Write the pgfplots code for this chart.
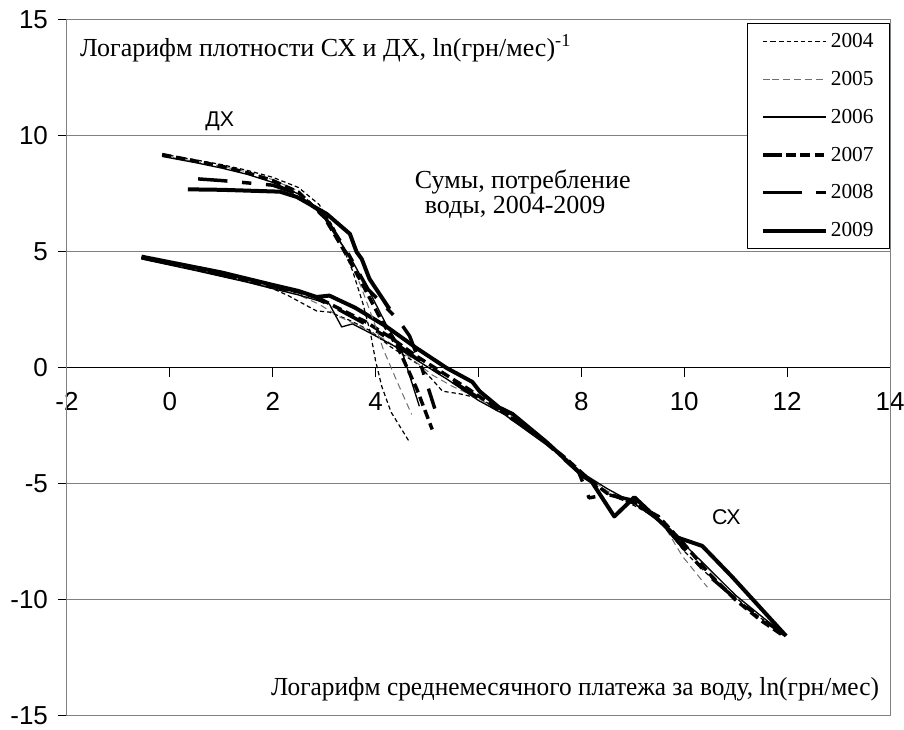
\documentclass[border=0pt]{standalone}
\usepackage{fontspec}
\setmainfont{Liberation Serif}
\newfontfamily\arial{Liberation Sans}
\usepackage{pgfplots}
\pgfplotsset{compat=1.18}
\definecolor{gridgray}{RGB}{128,128,128}
\definecolor{dgray}{RGB}{110,110,110}
\tikzset{
  s2004/.style={black, line width=0.9pt, dash pattern=on 3.2pt off 2.2pt},
  s2005/.style={dgray, line width=0.75pt, dash pattern=on 5pt off 3.2pt},
  s2006/.style={black, line width=1pt},
  s2007/.style={black, line width=2.6pt, dash pattern=on 7pt off 3.6pt},
  s2008/.style={black, line width=2.6pt, dash pattern=on 22pt off 11pt on 7pt off 11pt},
  s2009/.style={black, line width=3pt},
}
\begin{document}
\begin{tikzpicture}
\begin{axis}[
  name=ax,
  scale only axis,
  width=617.25pt, height=522pt,
  xmin=-2, xmax=14, ymin=-15, ymax=15,
  clip=false,
  axis x line*=middle, axis y line*=left,
  hide obscured x ticks=false, hide obscured y ticks=false,
  xtick={-2,0,...,14}, ytick={-15,-10,...,15},
  xticklabels={-2,0,2,4,{},8,10,12,14},
  ymajorgrids,
  grid style={gridgray, line width=0.75pt},
  tick align=outside,
  major tick length=6.75pt,
  tick style={black, line width=0.75pt},
  axis line style={black, line width=0.75pt, -},
  ticklabel style={font=\arial\fontsize{19.5}{22}\selectfont},
  xticklabel style={yshift=-8pt},
  yticklabel style={xshift=-4pt},
  /pgf/number format/assume math mode=true,
  legend style={at={(1,1)}, anchor=north east, yshift=-2.25pt,
    draw=black, line width=0.75pt, fill=white,
    font=\fontsize{16}{19}\selectfont,
    inner xsep=10pt, inner ysep=5.5pt, row sep=12.2pt},
  legend cell align=left,
  legend image code/.code={\path (0pt,0pt) -- (7pt,0pt); \draw[#1] (7pt,0pt) -- (47.5pt,0pt);},
  line join=round,
]
\draw[gridgray, line width=0.75pt] (rel axis cs:0,0) rectangle (rel axis cs:1,1);

% --- CX series (with legend entries) ---
\addplot[s2004] coordinates {(-0.55,4.72) (0.5,4.22) (1,3.97) (1.5,3.72) (2,3.42) (2.3,3.12) (2.85,2.46) (3.1,2.41) (3.5,2.05) (3.9,1.6) (4.3,0.9) (4.8,0.2) (5.1,-0.5) (5.3,-1.0) (5.65,-1.12) (6.0,-1.3) (6.5,-1.9) (7,-2.7) (7.5,-3.5) (8,-4.6) (8.5,-5.4) (9,-5.9) (9.5,-6.5) (10,-7.9) (10.5,-9.0) (11,-9.9) (11.5,-10.8) (11.9,-11.4)};
\addlegendentry{2004}
\addplot[s2005] coordinates {(-0.55,4.75) (0.5,4.25) (1,4.0) (1.5,3.75) (2,3.45) (2.5,3.15) (2.9,2.75) (3.3,2.2) (3.7,1.8) (4.2,1.2) (4.7,0.4) (5.1,-0.3) (5.5,-0.8) (6,-1.3) (6.5,-2.0) (7,-2.7) (7.5,-3.5) (8,-4.5) (8.5,-5.3) (9,-5.8) (9.5,-6.4) (9.96,-8.1) (10.45,-9.45)};
\addlegendentry{2005}
\addplot[s2006] coordinates {(-0.55,4.7) (0.5,4.2) (1,3.95) (1.5,3.7) (2,3.42) (2.5,3.15) (3.1,2.76) (3.34,1.77) (3.55,1.9) (3.9,1.5) (4.4,0.9) (4.9,0.2) (5.4,-0.5) (6,-1.4) (6.5,-2.0) (7,-2.8) (7.5,-3.6) (8,-4.5) (8.5,-5.2) (9,-5.8) (9.5,-6.6) (10,-7.6) (10.5,-8.7) (11,-9.8) (11.5,-10.7) (11.9,-11.4)};
\addlegendentry{2006}
\addplot[s2007] coordinates {(-0.55,4.78) (0.5,4.28) (1,4.02) (1.5,3.78) (2,3.5) (2.5,3.28) (2.9,3.0) (3.3,2.55) (3.8,2.0) (4.3,1.3) (4.8,0.5) (5.3,-0.2) (5.8,-0.9) (6.2,-1.5) (6.7,-2.2) (7.2,-3.0) (7.7,-3.9) (8.1,-4.7) (8.5,-5.4) (9,-5.8) (9.5,-6.4) (10,-7.6) (10.5,-8.9) (11,-10.0) (11.5,-10.9) (11.9,-11.5)};
\addlegendentry{2007}
\addplot[s2008] coordinates {(-0.55,4.76) (0.5,4.27) (1,4.02) (1.5,3.78) (2,3.52) (2.5,3.3) (2.85,3.0) (3.3,2.5) (3.8,1.9) (4.3,1.2) (4.8,0.4) (5.3,-0.3) (5.8,-1.0) (6.3,-1.7) (6.8,-2.4) (7.3,-3.2) (7.95,-4.5) (8.15,-5.6) (8.5,-5.45) (9,-5.7) (9.5,-6.5) (10,-7.8) (10.5,-9.0) (11,-9.95) (11.5,-10.8) (11.95,-11.5)};
\addlegendentry{2008}
\addplot[s2009] coordinates {(-0.55,4.8) (1,4.12) (2,3.58) (2.5,3.32) (2.85,3.06) (3.1,3.12) (3.6,2.6) (4.2,1.8) (4.8,0.85) (5.38,0) (5.88,-0.6) (6.02,-1.0) (6.4,-1.7) (6.66,-1.98) (7.32,-3.19) (8.06,-4.7) (8.2,-4.9) (8.64,-6.4) (9.03,-5.57) (9.86,-7.3) (10.35,-7.67) (10.93,-9.0) (11.98,-11.55)};
\addlegendentry{2009}

% --- DX series ---
\addplot[s2004, forget plot] coordinates {(-0.15,9.22) (0.5,8.97) (1,8.77) (1.5,8.52) (2,8.22) (2.5,7.78) (2.9,7.05) (3.2,6.0) (3.4,5.0) (3.55,4.2) (3.75,2.8) (3.9,1.5) (4.0,0.3) (4.12,-0.8) (4.3,-1.9) (4.66,-3.2)};
\addplot[s2005, forget plot] coordinates {(-0.15,9.15) (0.5,8.9) (1,8.7) (1.5,8.45) (2,8.12) (2.5,7.62) (3,6.6) (3.4,5.1) (3.7,3.6) (3.95,2.1) (4.15,0.8) (4.4,-0.5) (4.7,-2.0)};
\addplot[s2006, forget plot] coordinates {(-0.15,9.12) (0.5,8.85) (1,8.62) (1.5,8.35) (2,8.0) (2.5,7.5) (3,6.5) (3.5,4.8) (3.9,3.2) (4.2,1.9) (4.5,0.8) (4.85,-1.65)};
\addplot[s2007, forget plot] coordinates {(-0.15,9.2) (0.5,8.92) (1,8.7) (1.5,8.42) (2,8.08) (2.5,7.58) (3,6.5) (3.35,5.2) (3.7,3.8) (4.1,2.1) (4.45,0.8) (4.8,-0.9) (5.1,-2.65)};
\addplot[s2008, forget plot] coordinates {(0.55,8.15) (1,8.08) (1.5,7.98) (2,7.88) (2.5,7.5) (3,6.55) (3.45,5.0) (3.85,3.4) (4.45,2.05) (4.66,1.38) (4.9,0.0) (5.15,-1.75)};
\addplot[s2009, forget plot] coordinates {(0.35,7.7) (1,7.68) (2.14,7.6) (2.47,7.37) (3.05,6.64) (3.5,5.78) (3.63,5.0) (3.73,4.7) (3.88,3.84) (4.27,2.54)};

% --- texts ---
\node[anchor=west, inner sep=0pt, font=\fontsize{19.5}{22}\selectfont] at (axis cs:-1.75,13.8) {Логарифм плотности СХ и ДХ, ln(грн/мес)\textsuperscript{-1}};
\node[font=\arial\fontsize{16}{19}\selectfont] at (axis cs:0.97,10.65) {ДХ};
\node[anchor=west, inner sep=0pt, font=\fontsize{19.5}{22}\selectfont] at (axis cs:4.76,8.03) {Сумы, потребление};
\node[anchor=west, inner sep=0pt, font=\fontsize{19.5}{22}\selectfont] at (axis cs:4.95,6.93) {воды, 2004-2009};
\node[font=\arial\fontsize{16}{19}\selectfont] at (axis cs:10.82,-6.42) {СХ};
\node[anchor=east, inner sep=0pt, xscale=0.975, font=\fontsize{19.5}{22}\selectfont] at (axis cs:13.79,-13.84) {Логарифм среднемесячного платежа за воду, ln(грн/мес)};
\end{axis}
\pgfresetboundingbox
\path ([xshift=-50.25pt,yshift=-10pt]ax.south west) rectangle ([xshift=10.5pt,yshift=15pt]ax.north east);
\end{tikzpicture}
\end{document}
